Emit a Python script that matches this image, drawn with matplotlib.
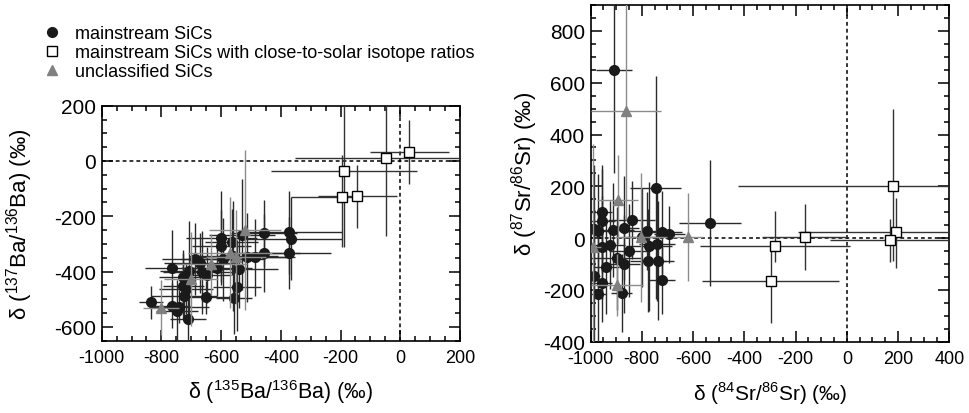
import matplotlib
matplotlib.use("Agg")
import matplotlib.pyplot as plt
from matplotlib.lines import Line2D
from matplotlib.ticker import MultipleLocator

plt.rcParams['font.family'] = ['Liberation Sans', 'DejaVu Sans']
plt.rcParams['mathtext.fontset'] = 'custom'
plt.rcParams['mathtext.rm'] = 'Liberation Sans'
plt.rcParams['axes.unicode_minus'] = False

# --- Ba panel: mainstream SiCs (circles)
ba_mx = [-836, -765, -765, -749, -741, -729, -726, -724, -717, -712, -706, -687, -670, -665, -648, -650, -615,
         -599, -599, -593, -565, -559, -557, -548, -539, -531, -514, -486, -456, -456, -371, -366, -371]
ba_my = [-511, -388, -523, -541, -527, -421, -451, -487, -463, -571, -397, -355, -369, -403, -412, -493, -388,
         -280, -307, -355, -293, -343, -497, -454, -392, -266, -349, -349, -262, -333, -258, -282, -334]
ba_mxe = [40, 90, 60, 70, 100, 80, 70, 110, 90, 60, 100, 110, 120, 130, 80, 90, 120, 120, 100, 140,
          90, 150, 60, 80, 130, 110, 160, 120, 110, 120, 175, 170, 140]
ba_mye = [60, 140, 80, 110, 60, 100, 120, 80, 90, 80, 180, 130, 110, 150, 100, 60, 100, 170, 130, 150,
          120, 200, 130, 160, 140, 200, 160, 140, 120, 140, 150, 150, 130]
# unclassified (triangles)
ba_ux = [-802, -701, -634, -570, -551, -520]
ba_uy = [-531, -427, -373, -331, -349, -249]
ba_uxe = [60, 90, 120, 140, 100, 120]
ba_uye = [100, 170, 110, 200, 170, 290]
# close-to-solar (squares), asymmetric errors
ba_sx = [-190, -196, -145, -48, 30]
ba_sy = [-36, -130, -128, 9, 32]
ba_sx_lo = [242, 170, 130, 304, 130]
ba_sx_hi = [246, 60, 135, 270, 134]
ba_sy_lo = [275, 180, 115, 280, 116]
ba_sy_hi = [248, 150, 113, 202, 118]

# --- Sr panel
sr_mx = [-907, -746, -534, -957, -954, -840, -985, -970, -911, -869, -781, -723, -693, -957, -924, -849, -771,
         -740, -898, -868, -775, -736, -940, -985, -957, -720, -970, -879, -801]
sr_my = [650, 194, 57, 101, 66, 70, 34, 28, 31, 39, 28, 22, 15, -36, -27, -48, -32,
         -23, -78, -99, -87, -87, -112, -148, -172, -163, -214, -212, 3]
sr_mxe = [70, 100, 120, 40, 50, 90, 30, 40, 80, 60, 100, 80, 60, 40, 60, 80, 90, 70, 100, 60,
          70, 60, 50, 20, 40, 50, 30, 40, 60]
sr_mye = [400, 430, 243, 180, 200, 150, 250, 220, 180, 200, 150, 160, 110, 200, 170, 180, 250, 220, 200, 190,
          200, 230, 180, 260, 150, 130, 250, 150, 190]
sr_ux = [-862, -894, -620, -803, -990, -897]
sr_uy = [490, 149, 6, 3, -36, -182]
sr_uxe = [135, 80, 60, 100, 30, 100]
sr_uye = [420, 170, 170, 250, 400, 120]
sr_sx = [179, 192, 169, -163, -282, -296]
sr_sy = [203, 22, -8, 4, -31, -167]
sr_sx_lo = [604, 382, 234, 169, 290, 270]
sr_sx_hi = [300, 300, 300, 163, 295, 267]
sr_sy_lo = [291, 138, 85, 129, 60, 162]
sr_sy_hi = [297, 134, 80, 126, 135, 150]

dark = '#1a1a1a'
grey = '#808080'

fig = plt.figure(figsize=(9.7, 4.14), dpi=100)
ax1 = fig.add_axes([0.1048, 0.1746, 0.3694, 0.5677])
ax2 = fig.add_axes([0.6088, 0.1722, 0.3699, 0.8133])


def draw(ax, mx, my, mxe, mye, ux, uy, uxe, uye, sx, sy, sxl, sxh, syl, syh):
    ax.axhline(0, color='k', lw=1.1, ls=(0, (2.5, 2)), zorder=1)
    ax.axvline(0, color='k', lw=1.1, ls=(0, (2.5, 2)), zorder=1)
    ax.errorbar(mx, my, xerr=mxe, yerr=mye, fmt='o', color=dark, ecolor='#2a2a2a',
                elinewidth=1, ms=7, capsize=0, zorder=3)
    ax.errorbar(ux, uy, xerr=uxe, yerr=uye, fmt='^', color=grey, ecolor='#8c8c8c',
                elinewidth=1, ms=7.5, capsize=0, zorder=4)
    ax.errorbar(sx, sy, xerr=[sxl, sxh], yerr=[syl, syh], fmt='s', mfc='white', mec='k',
                mew=1, ecolor='#333333', elinewidth=1, ms=6.5, capsize=0, zorder=5)
    ax.xaxis.set_major_locator(MultipleLocator(200))
    ax.xaxis.set_minor_locator(MultipleLocator(50))
    ax.yaxis.set_major_locator(MultipleLocator(200))
    ax.yaxis.set_minor_locator(MultipleLocator(50))
    ax.tick_params(which='both', direction='in', top=True, right=True, width=1.1)
    ax.tick_params(which='major', length=8)
    ax.tick_params(which='minor', length=3.5)
    ax.tick_params(axis='y', labelsize=15, pad=4)
    ax.tick_params(axis='x', labelsize=13, pad=6)
    for s in ax.spines.values():
        s.set_linewidth(1.2)


draw(ax1, ba_mx, ba_my, ba_mxe, ba_mye, ba_ux, ba_uy, ba_uxe, ba_uye,
     ba_sx, ba_sy, ba_sx_lo, ba_sx_hi, ba_sy_lo, ba_sy_hi)
ax1.set_xlim(-1000, 200)
ax1.set_ylim(-650, 200)
ax1.set_xlabel(r'δ ($^{\mathregular{135}}$Ba/$^{\mathregular{136}}$Ba) (‰)', fontsize=15.5)
ax1.set_ylabel(r'δ ($^{\mathregular{137}}$Ba/$^{\mathregular{136}}$Ba) (‰)', fontsize=16)
ax1.xaxis.set_label_coords(0.5, -0.155)
ax1.yaxis.set_label_coords(-0.186, 0.5)

draw(ax2, sr_mx, sr_my, sr_mxe, sr_mye, sr_ux, sr_uy, sr_uxe, sr_uye,
     sr_sx, sr_sy, sr_sx_lo, sr_sx_hi, sr_sy_lo, sr_sy_hi)
ax2.set_xlim(-1000, 400)
ax2.set_ylim(-400, 900)
ax2.set_xlabel(r'δ ($^{\mathregular{84}}$Sr/$^{\mathregular{86}}$Sr) (‰)', fontsize=15)
ax2.set_ylabel(r'δ ($^{\mathregular{87}}$Sr/$^{\mathregular{86}}$Sr) (‰)', fontsize=16)
ax2.xaxis.set_label_coords(0.5, -0.112)
ax2.yaxis.set_label_coords(-0.141, 0.5)

handles = [
    Line2D([], [], ls='none', marker='o', color=dark, ms=7),
    Line2D([], [], ls='none', marker='s', mfc='white', mec='k', mew=1, ms=6.5),
    Line2D([], [], ls='none', marker='^', color=grey, ms=7.5),
]
labels = ['mainstream SiCs',
          'mainstream SiCs with close-to-solar isotope ratios',
          'unclassified SiCs']
fig.legend(handles, labels, loc='upper left', bbox_to_anchor=(0.035, 0.958),
           frameon=False, fontsize=13, handlelength=1, handletextpad=0.8,
           labelspacing=0.1, borderpad=0)

fig.savefig('out.png', dpi=100)
